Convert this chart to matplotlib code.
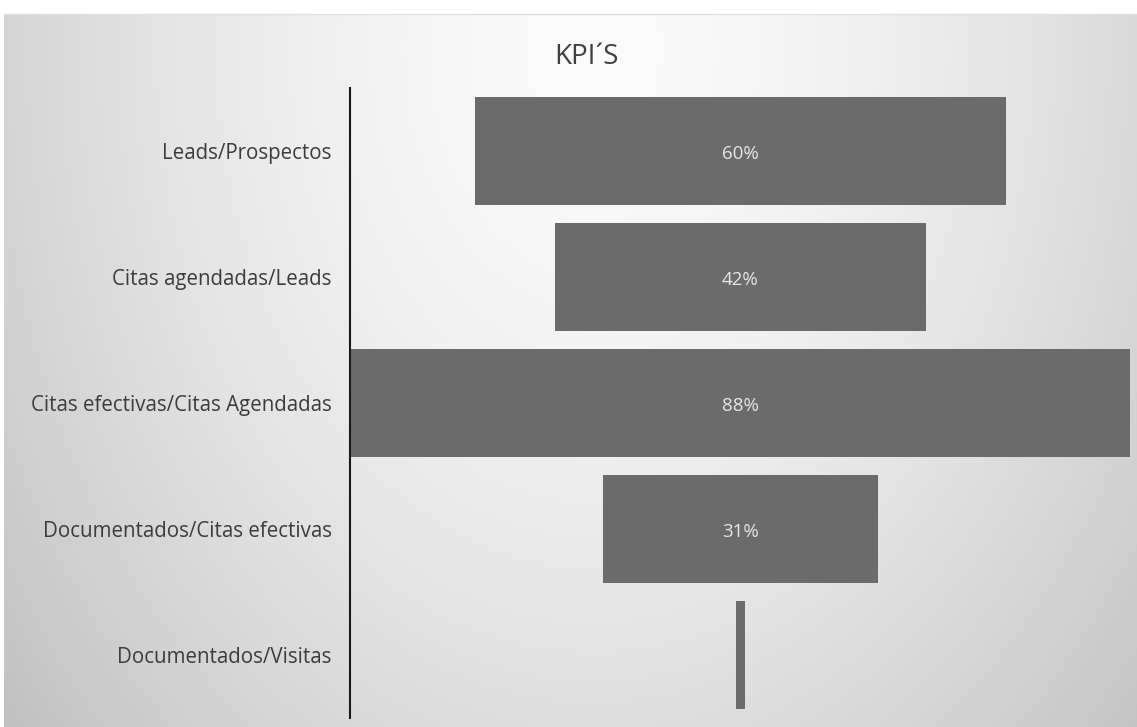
import numpy as np
import matplotlib
matplotlib.use("Agg")
import matplotlib.pyplot as plt

categories = ["Leads/Prospectos", "Citas agendadas/Leads", "Citas efectivas/Citas Agendadas",
              "Documentados/Citas efectivas", "Documentados/Visitas"]
values = [60, 42, 88, 31, 1]
labels = ["60%", "42%", "88%", "31%", ""]
title = "KPI´S"

W, H = 1137, 727
fig = plt.figure(figsize=(W / 100, H / 100), dpi=100)
fig.patch.set_facecolor("white")

# background panel with radial gradient
bg = fig.add_axes([4 / W, 0, 1 - 4 / W, 1 - 14 / H])
bg.set_axis_off()
ny, nx = 400, 700
yy, xx = np.mgrid[0:ny, 0:nx]
cx, cy = nx * 0.52, ny * 0.05
d = np.sqrt(((xx - cx) / (nx * 0.62)) ** 2 + ((yy - cy) / (ny * 1.35)) ** 2)
shade = 0.985 - 0.2 * np.clip(d, 0, 1.3) ** 1.6
shade = np.clip(shade, 0.74, 1.0)
bg.imshow(np.dstack([shade] * 3), aspect="auto", extent=[0, 1, 0, 1], origin="upper")
bg.set_xlim(0, 1)
bg.set_ylim(0, 1)
fig.add_artist(plt.Line2D([4 / W, 1], [1 - 14 / H, 1 - 14 / H], color="#e0e0e0", lw=1))

# main axes: x from 351 to 1130, y from 88 to 718
left, right = 351, 1130
top, bottom = 88, 718
ax = fig.add_axes([left / W, 1 - bottom / H, (right - left) / W, (bottom - top) / H])
ax.patch.set_alpha(0)
n = len(categories)
ypos = np.arange(n)
vmax = max(values)
lefts = [-v / 2 for v in values]
ax.barh(ypos, values, left=lefts, height=0.86, color="#6b6b6b", edgecolor="none")
ax.set_xlim(-vmax / 2, vmax / 2)
ax.set_ylim(n - 0.5, -0.5)
for y, lab in zip(ypos, labels):
    if lab:
        ax.text(0, y + 0.02, lab, ha="center", va="center", color="#e6e6e6",
                fontsize=13.5, family="Open Sans")
ax.tick_params(axis="y", length=0, pad=13, labelsize=14.8, labelcolor="#3c3c3c",
               labelfontfamily="Open Sans")
ax.set_yticks(ypos)
ax.set_yticklabels(categories)
ax.set_xticks([])
for s in ["top", "right", "bottom"]:
    ax.spines[s].set_visible(False)
ax.spines["left"].set_color("#1a1a1a")
ax.spines["left"].set_linewidth(1.5)
ax.spines["left"].set_position(("outward", 1))

fig.text(586 / W, 1 - 57 / H, title, ha="center", va="center", fontsize=20,
         family="Open Sans", color="#404040")

fig.savefig("out.png", dpi=100)
